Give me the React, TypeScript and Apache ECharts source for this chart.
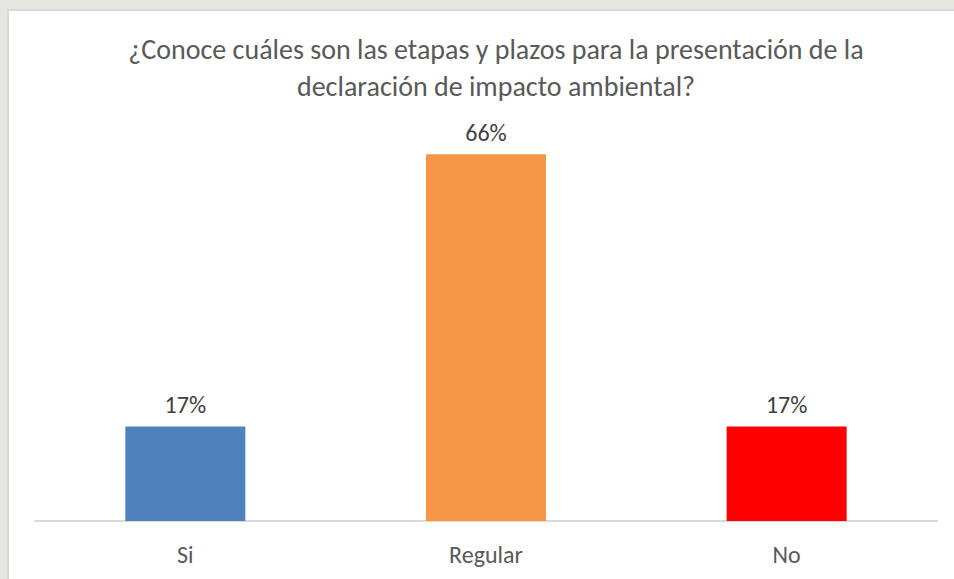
import React, { useEffect, useRef } from "react";
import * as echarts from "echarts";

const categories = ["Si", "Regular", "No"];
const values = [0.17, 0.66, 0.17];
const barColors = ["#4f81bd", "#f79646", "#ff0000"];
const titleLines = [
  "¿Conoce cuáles son las etapas y plazos para la presentación de la",
  "declaración de impacto ambiental?",
];

const FONT = "Carlito, 'Liberation Sans Narrow', 'Open Sans', sans-serif";

export default function App() {
  const ref = useRef<HTMLDivElement>(null);
  useEffect(() => {
    if (!ref.current) return;
    const chart = echarts.init(ref.current, null, { renderer: "svg" });
    chart.setOption({
      animation: false,
      backgroundColor: "transparent",
      title: {
        text: titleLines.join("\n"),
        left: 491,
        textAlign: "center",
        top: 26,
        textStyle: {
          fontFamily: FONT,
          fontSize: 28,
          fontWeight: "normal",
          color: "#595959",
          lineHeight: 37,
        },
      },
      grid: { left: 35, right: 17, top: 132, bottom: 58, containLabel: false },
      xAxis: {
        type: "category",
        data: categories,
        axisLine: { show: true, lineStyle: { color: "#d9d9d9", width: 2 } },
        axisTick: { show: false },
        axisLabel: {
          fontFamily: FONT,
          fontSize: 24,
          color: "#595959",
          margin: 21,
        },
      },
      yAxis: {
        type: "value",
        min: 0,
        max: 0.7,
        show: false,
        splitLine: { show: false },
      },
      series: [
        {
          type: "bar",
          barWidth: 120,
          data: values.map((v, i) => ({
            value: v,
            itemStyle: { color: barColors[i] },
          })),
          label: {
            show: true,
            position: "top",
            distance: 10,
            fontFamily: FONT,
            fontSize: 24,
            color: "#404040",
            formatter: (p: any) => Math.round(p.value * 100) + "%",
          },
        },
      ],
    });
    return () => chart.dispose();
  }, []);
  return (
    <div style={{ position: "absolute", left: 0, top: 0, width: 954, height: 579, background: "#e3e7df", overflow: "hidden" }}>
      <div
        style={{
          position: "absolute",
          left: 7,
          top: 9,
          width: 960,
          height: 590,
          background: "#ffffff",
          borderLeft: "2px solid #d9d9d9",
          borderTop: "2px solid #d9d9d9",
        }}
      />
      <div ref={ref} style={{ position: "absolute", left: 0, top: 0, width: 954, height: 579 }} />
    </div>
  );
}
